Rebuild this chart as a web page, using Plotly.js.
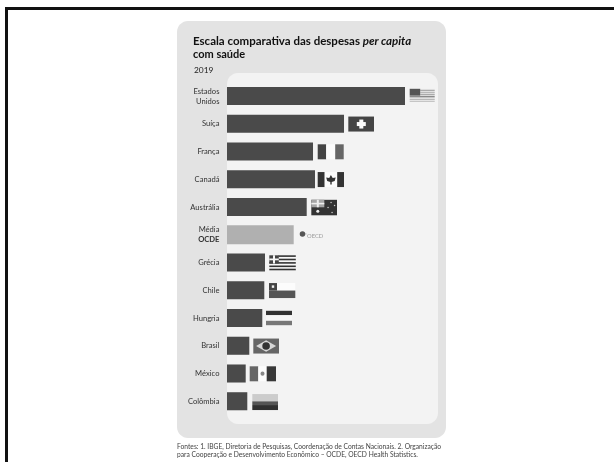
<!DOCTYPE html>
<html><head><meta charset="utf-8">
<script src="https://cdn.plot.ly/plotly-3.0.1.min.js"></script>
<style>html,body{margin:0;padding:0;background:#fff}#c{width:614px;height:462px;filter:blur(0.45px)}</style>
</head><body><div id="c"></div>
<script>
const countries = ['Estados<br>Unidos','Suíça','França','Canadá','Austrália','Média<br><b>OCDE</b>','Grécia','Chile','Hungria','Brasil','México','Colômbia'];
const spending = [10967,7209,5299,5422,4911,4110,2341,2298,2175,1374,1152,1251];
const barColors = ['#4a4a4a','#4a4a4a','#4a4a4a','#4a4a4a','#4a4a4a','#b0b0b0','#4a4a4a','#4a4a4a','#4a4a4a','#4a4a4a','#4a4a4a','#4a4a4a'];
const flagGaps = [4.7,4.3,4.7,2.7,4.6,6,4.3,4.7,3.7,4,4,5];

const W=614,H=462,L=227,R=438,T=73,B=424;
const XMAX=13000, PX=(R-L)/XMAX, ROW=27.75;
const idx=countries.map((_,i)=>i);
const px=x=>(x-L)/(R-L), py=y=>(B-y)/(B-T);
const shapes=[];

function round(x0,y0,x1,y1,r,fill){
  const X=v=>px(v),Y=v=>py(v);
  const k=r*0.45;
  const d=`M${X(x0+r)},${Y(y0)} L${X(x1-r)},${Y(y0)} C${X(x1-k)},${Y(y0)} ${X(x1)},${Y(y0+k)} ${X(x1)},${Y(y0+r)} L${X(x1)},${Y(y1-r)} C${X(x1)},${Y(y1-k)} ${X(x1-k)},${Y(y1)} ${X(x1-r)},${Y(y1)} L${X(x0+r)},${Y(y1)} C${X(x0+k)},${Y(y1)} ${X(x0)},${Y(y1-k)} ${X(x0)},${Y(y1-r)} L${X(x0)},${Y(y0+r)} C${X(x0)},${Y(y0+k)} ${X(x0+k)},${Y(y0)} ${X(x0+r)},${Y(y0)} Z`;
  shapes.push({type:'path',xref:'paper',yref:'paper',path:d,fillcolor:fill,line:{width:0},layer:'below'});
}
round(177,21,446,438,11,'#e3e3e3');
round(227,73,438,424,11,'#f3f3f3');
// page frame
shapes.push({type:'rect',xref:'paper',yref:'paper',x0:px(5),x1:px(8),y0:py(462),y1:py(7),fillcolor:'#111',line:{width:0},layer:'below'});
shapes.push({type:'rect',xref:'paper',yref:'paper',x0:px(5),x1:px(614),y0:py(10),y1:py(7),fillcolor:'#111',line:{width:0},layer:'below'});

// flag helpers: u,v are local offsets from the end of the bar and the row centre
function flag(i){
  const ox=spending[i]+flagGaps[i]/PX;
  const U=u=>ox+u/PX, V=v=>i+(v-7.2)/ROW;
  return {
    rect(u0,v0,u1,v1,c){shapes.push({type:'rect',xref:'x',yref:'y',x0:U(u0),x1:U(u1),y0:V(v0),y1:V(v1),fillcolor:c,line:{width:0},layer:'above'});},
    circ(u0,v0,u1,v1,c){shapes.push({type:'circle',xref:'x',yref:'y',x0:U(u0),x1:U(u1),y0:V(v0),y1:V(v1),fillcolor:c,line:{width:0},layer:'above'});},
    poly(pts,c){shapes.push({type:'path',xref:'x',yref:'y',path:'M'+pts.map(p=>U(p[0])+','+V(p[1])).join(' L')+' Z',fillcolor:c,line:{width:0},layer:'above'});}
  };
}
// Estados Unidos
(()=>{const f=flag(0);
 f.rect(0,0,25,13,'#eeeeee');
 f.rect(10.5,1,25,2,'#999');f.rect(10.5,3,25,4,'#aaa');f.rect(10.5,5,25,6,'#999');
 f.rect(0,7,25,8.6,'#8a8a8a');f.rect(0,10,25,11,'#aaa');f.rect(0,12,25,13,'#bbb');
 f.rect(0,0,10.5,6.8,'#555');})();
// Suíça
(()=>{const f=flag(1);f.rect(0,0,25.7,15,'#444');f.rect(11,3,15,12,'#fafafa');f.rect(8.5,5.5,17.5,9.5,'#fafafa');})();
// França
(()=>{const f=flag(2);f.rect(0,0,8.5,15,'#444');f.rect(8.5,0,17.5,15,'#fbfbfb');f.rect(17.5,0,26,15,'#666');})();
// Canadá
(()=>{const f=flag(3);f.rect(0,0,7,15,'#333');f.rect(7,0,19.5,15,'#fbfbfb');f.rect(19.5,0,26.3,15,'#333');
 f.poly([[13.2,3],[15,6],[18,5.5],[17,9],[14,10],[14,12.5],[12.6,12.5],[12.6,10],[9.5,9],[8.5,5.5],[11.5,6]],'#333');})();
// Austrália
(()=>{const f=flag(4);f.rect(0,0,25.7,15.5,'#333');f.rect(0,0,13,7.5,'#a5a5a5');
 f.rect(5.5,0,7.5,7.5,'#eee');f.rect(0,3,13,4.6,'#eee');
 f.circ(5,10,8,13,'#eee');f.circ(19,2,20.5,3.5,'#ccc');f.circ(22.5,5,24,6.5,'#ccc');f.circ(16,7,17.5,8.5,'#ccc');f.circ(20,12,21.5,13.5,'#ccc');})();
// Média OCDE
(()=>{const f=flag(5);f.circ(0,3.8,5.5,9.2,'#555');f.rect(5.5,5.8,6.6,7,'#aaa');})();
// Grécia
(()=>{const f=flag(6);f.rect(0,0,26.5,15,'#f7f7f7');
 [0,3.4,6.8,10.2,13.4].forEach((v,k)=>f.rect(k<2?9:0,v,26.5,v+1.6,'#333'));
 f.rect(0,0,9.5,8.2,'#444');f.rect(3.7,0,5.7,8.2,'#f7f7f7');f.rect(0,3.2,9.5,5,'#f7f7f7');})();
// Chile
(()=>{const f=flag(7);f.rect(8,0,26.3,7.5,'#fcfcfc');f.rect(0,7.5,26.3,15,'#555');f.rect(0,0,8,7.5,'#444');f.rect(2.8,2.3,5.2,4.8,'#eee');})();
// Hungria
(()=>{const f=flag(8);f.rect(0,0,26,4.4,'#333');f.rect(0,4.4,26,10,'#f7f7f7');f.rect(0,10,26,14.4,'#777');})();
// Brasil
(()=>{const f=flag(9);f.rect(0,0,25.7,15,'#666');f.poly([[2.8,7.5],[12.8,1.8],[22.8,7.5],[12.8,13.2]],'#d8d8d8');f.circ(9,3.7,16.6,11.3,'#333');})();
// México
(()=>{const f=flag(10);f.rect(0,0,8.6,15,'#666');f.rect(8.6,0,17,15,'#fcfcfc');f.rect(17,0,26.3,15,'#383838');f.circ(10.8,5.3,14.8,9.5,'#888');})();
// Colômbia
(()=>{const f=flag(11);f.rect(0,0,25.7,7.3,'#cccccc');f.rect(0,7.3,25.7,11,'#555');f.rect(0,11,25.7,16,'#303030');})();

const note=(x,y,text,size,color,extra)=>Object.assign({xref:'paper',yref:'paper',x:px(x),y:py(y),xanchor:'left',yanchor:'middle',align:'left',showarrow:false,text,font:{family:'Lato, sans-serif',size,color}},extra||{});
const annotations=[
 note(190.5,40.5,'<b>Escala comparativa das despesas <i>per capita</i></b>',11.5,'#111'),
 note(190.5,54,'<b>com saúde</b>',11,'#111'),
 note(192,69.5,'2019',8.4,'#222'),
 note(304.5,235.3,'OECD',5.8,'#999999'),
 note(175,447,'Fontes: 1. IBGE, Diretoria de Pesquisas, Coordenação de Contas Nacionais. 2. Organização',6.7,'#444'),
 note(175,454.3,'para Cooperação e Desenvolvimento Econômico – OCDE, OECD Health Statistics.',6.7,'#444')
];

Plotly.newPlot('c',[{
  type:'bar',orientation:'h',y:idx,x:spending,
  marker:{color:barColors,line:{width:0}},width:idx.map(i=>i===5?0.69:0.65),hoverinfo:'skip'
}],{
  width:W,height:H,margin:{l:L,r:W-R,t:T,b:H-B,pad:0},
  paper_bgcolor:'#fff',plot_bgcolor:'rgba(0,0,0,0)',showlegend:false,
  xaxis:{range:[0,XMAX],visible:false,fixedrange:true},
  yaxis:{range:[(B-96)/ROW,(T-96)/ROW],tickmode:'array',tickvals:idx,ticktext:countries,showgrid:false,zeroline:false,showline:false,ticks:'outside',ticklen:5,tickcolor:'rgba(0,0,0,0)',tickfont:{family:'Lato, sans-serif',size:7.6,color:'#333'},fixedrange:true},
  shapes,annotations
},{displayModeBar:false,staticPlot:true});
</script></body></html>
